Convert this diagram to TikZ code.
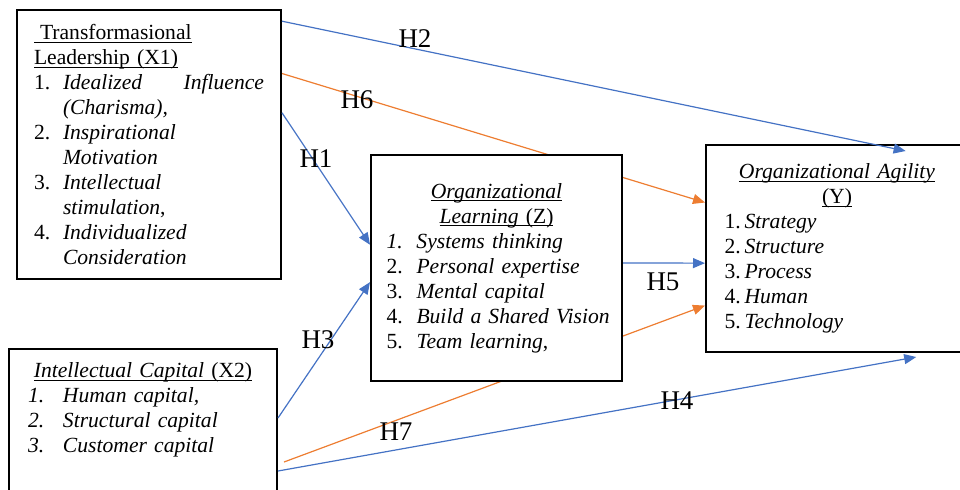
\documentclass[tikz,border=0pt]{standalone}
\usepackage{fontspec}
\setmainfont{Liberation Serif}
\usepackage{tikz}
\usetikzlibrary{arrows.meta, calc, backgrounds}
\setlength{\parindent}{0pt}
\newcommand{\listline}[3][15pt]{\makebox[#1][l]{#2}\mbox{#3}}
\newcommand{\undl}[1]{\leavevmode\setbox0\hbox{#1}\rlap{\rule[-1.6pt]{\wd0}{0.5pt}}\box0}

\begin{document}
\begin{tikzpicture}[x=0.5pt, y=-0.5pt, font=\fontsize{10.8}{12.5}\selectfont]
  \definecolor{hypblue}{HTML}{4472C4}
  \definecolor{hyporange}{HTML}{ED7D31}
  \tikzset{
    varbox/.style={draw=black, line width=1pt, fill=white, rectangle, inner xsep=0pt, inner ysep=3pt},
    hyp/.style={line width=0.6pt, -{Triangle[length=6pt,width=5pt]}},
    hlabel/.style={font=\fontsize{13.5}{15}\selectfont, inner sep=0pt}
  }
  \useasboundingbox (0,0) rectangle (960,489);

  % variables
  \node[varbox, text width=115pt, minimum width=132pt, minimum height=134.5pt] (x1) at (149,144.5) {%
    \undl{\hspace{3pt}Transformasional}\\
    \undl{Leadership (X1)}\\
    \listline[14.5pt]{1.}{\hbox to 100.5pt{\textit{Idealized}\hfill\textit{Influence}}}\\
    \listline[14.5pt]{}{\textit{(Charisma),}}\\
    \listline[14.5pt]{2.}{\textit{Inspirational}}\\
    \listline[14.5pt]{}{\textit{Motivation}}\\
    \listline[14.5pt]{3.}{\textit{Intellectual}}\\
    \listline[14.5pt]{}{\textit{stimulation},}\\
    \listline[14.5pt]{4.}{\textit{Individualized}}\\
    \listline[14.5pt]{}{\textit{Consideration}}};

  \node[varbox, anchor=north west, inner xsep=9.5pt, inner ysep=7pt, text width=115pt] (x2) at (8,348) {%
    {\centering\undl{\textit{Intellectual Capital} (X2)}\par}
    \listline[17.5pt]{\textit{1.}}{\textit{Human capital,}}\\
    \listline[17.5pt]{\textit{2.}}{\textit{Structural capital}}\\
    \listline[17.5pt]{\textit{3.}}{\textit{Customer capital}}\par
    \rule{0pt}{30pt}};

  \node[varbox, text width=110pt, minimum width=125.5pt, minimum height=113pt] (z) at (496.5,268) {%
    {\centering\undl{\textit{Organizational}}\\
    \undl{\textit{Learning} (Z)}\par}
    \listline{\textit{1.}}{\textit{Systems thinking}}\\
    \listline{2.}{\textit{Personal expertise}}\\
    \listline{3.}{\textit{Mental capital}}\\
    \listline{4.}{\textit{Build a Shared Vision}}\\
    \listline{5.}{\textit{Team learning},}};

  \node[varbox, text width=112.5pt, minimum width=131pt, minimum height=103.5pt] (y) at (837,248.5) {%
    {\centering\undl{\textit{Organizational Agility}}\\
    \undl{(Y)}\par}
    \listline[10pt]{1.}{\textit{Strategy}}\\
    \listline[10pt]{2.}{\textit{Structure}}\\
    \listline[10pt]{3.}{\textit{Process}}\\
    \listline[10pt]{4.}{\textit{Human}}\\
    \listline[10pt]{5.}{\textit{Technology}}};

  % hypotheses
  \draw[hyp, hypblue] ($(x1.north east)!0.045!(x1.south east)$) -- ($(y.north west)!0.76!(y.north east)+(0,7)$);
  \draw[hyp, hypblue] ($(x1.north east)!0.383!(x1.south east)$) -- ($(z.north west)!0.398!(z.south west)$);
  \draw[hyp, hypblue] ($(x2.north east)+(0,70)$) -- ($(z.north west)!0.562!(z.south west)$);
  \draw[hyp, hypblue] ($(x2.north east)+(0,123)$) -- ($(y.south west)!0.80!(y.south east)+(0,4)$);
  \draw[hyp, hypblue] ($(z.north east)!0.478!(z.south east)$) -- ($(y.north west)!0.57!(y.south west)$);
  \begin{pgfonlayer}{background}
    \draw[hyp, hyporange] ($(x1.north east)!0.238!(x1.south east)$) -- ($(y.north west)!0.28!(y.south west)$);
    \draw[hyp, hyporange] ($(x2.north east)+(6,114)$) -- ($(y.north west)!0.773!(y.south west)$);
  \end{pgfonlayer}

  \node[hlabel] (h1) at (316,159) {H1};
  \node[hlabel] (h2) at (415,39) {H2};
  \node[hlabel] (h3) at (318,340) {H3};
  \node[hlabel] (h4) at (677,401) {H4};
  \node[hlabel] (h5) at (663,282) {H5};
  \node[hlabel] (h6) at (357,100) {H6};
  \node[hlabel] (h7) at (396,432) {H7};
\end{tikzpicture}
\end{document}
